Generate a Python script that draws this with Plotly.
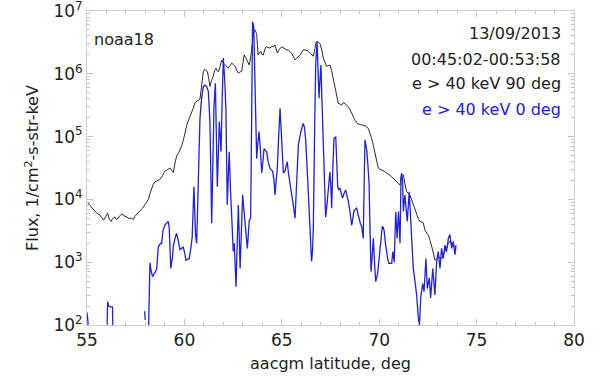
import numpy as np
import plotly.graph_objects as go

# ---- data (latitude in deg, flux as log10 of 1/cm2-s-str-keV) ----
lat90 = [55.0, 55.12, 55.24, 55.37, 55.5, 55.67, 55.84, 55.95, 56.06, 56.15, 56.23, 56.33, 56.44, 56.52, 56.6, 56.7,
         56.78, 56.9, 57.04, 57.15, 57.29, 57.38, 57.46, 57.6, 57.72, 57.85, 57.98, 58.07, 58.15, 58.24, 58.32, 58.4,
         58.49, 58.6, 58.75, 58.88, 59.0, 59.12, 59.26, 59.35, 59.43, 59.52, 59.6, 59.72, 59.86, 59.95, 60.03, 60.12,
         60.2, 60.29, 60.37, 60.45, 60.54, 60.63, 60.72, 60.8, 60.88, 60.97, 61.03, 61.1, 61.17, 61.23, 61.31, 61.4,
         61.48, 61.55, 61.62, 61.68, 61.74, 61.82, 61.91, 62.0, 62.08, 62.17, 62.25, 62.34, 62.43, 62.5, 62.6, 62.68,
         62.77, 62.86, 62.94, 63.02, 63.07, 63.14, 63.2, 63.27, 63.33, 63.42, 63.5, 63.56, 63.62, 63.68, 63.71, 63.75,
         63.79, 63.85, 63.92, 63.98, 64.05, 64.12, 64.19, 64.28, 64.39, 64.5, 64.58, 64.65, 64.72, 64.77, 64.85, 64.92,
         64.99, 65.06, 65.15, 65.25, 65.33, 65.42, 65.5, 65.58, 65.68, 65.76, 65.85, 65.95, 66.02, 66.1, 66.2, 66.28,
         66.36, 66.45, 66.55, 66.62, 66.7, 66.76, 66.82, 66.9, 66.96, 67.05, 67.13, 67.22, 67.3, 67.38, 67.47, 67.56,
         67.64, 67.73, 67.82, 67.9, 67.98, 68.07, 68.15, 68.24, 68.32, 68.41, 68.5, 68.59, 68.68, 68.76, 68.85, 68.93,
         69.05, 69.18, 69.3, 69.44, 69.52, 69.61, 69.7, 69.78, 69.87, 69.95, 70.04, 70.13, 70.25, 70.38, 70.5, 70.64,
         70.77, 70.9, 71.0, 71.07, 71.15, 71.24, 71.32, 71.41, 71.5, 71.58, 71.66, 71.75, 71.84, 71.92, 72.0, 72.09,
         72.18, 72.26, 72.35, 72.44, 72.52, 72.6, 72.69, 72.78, 72.86, 72.95, 73.03, 73.12, 73.2, 73.29, 73.37, 73.46,
         73.55, 73.63, 73.72, 73.8, 73.87, 73.94]
flux90_log10 = [3.96, 3.92, 3.88, 3.82, 3.78, 3.75, 3.67, 3.72, 3.78, 3.68, 3.65, 3.7, 3.72, 3.68, 3.71, 3.74,
                3.77, 3.74, 3.72, 3.7, 3.7, 3.68, 3.73, 3.77, 3.82, 3.86, 3.92, 3.95, 4.0, 4.1, 4.19, 4.24,
                4.28, 4.3, 4.32, 4.38, 4.45, 4.47, 4.5, 4.46, 4.43, 4.58, 4.69, 4.75, 4.85, 4.95, 5.07, 5.18,
                5.25, 5.32, 5.36, 5.45, 5.54, 5.56, 5.57, 5.6, 5.8, 6.03, 6.07, 6.06, 6.04, 5.96, 5.8, 5.9,
                5.96, 6.05, 6.09, 6.05, 6.03, 6.1, 6.22, 6.17, 6.14, 6.12, 6.09, 6.13, 6.17, 6.15, 6.12, 6.06,
                6.01, 6.03, 6.04, 6.2, 6.3, 6.26, 6.22, 6.17, 6.14, 6.3, 6.55, 6.68, 6.7, 6.66, 6.64, 6.45,
                6.3, 6.33, 6.36, 6.31, 6.3, 6.38, 6.43, 6.42, 6.41, 6.44, 6.43, 6.46, 6.38, 6.33, 6.38, 6.41,
                6.43, 6.42, 6.4, 6.38, 6.38, 6.36, 6.33, 6.28, 6.22, 6.25, 6.27, 6.3, 6.34, 6.38, 6.38, 6.37,
                6.36, 6.33, 6.3, 6.28, 6.4, 6.5, 6.52, 6.5, 6.48, 6.38, 6.25, 6.18, 6.12, 6.13, 6.14, 6.05,
                5.93, 5.8, 5.66, 5.53, 5.52, 5.5, 5.54, 5.53, 5.5, 5.48, 5.43, 5.37, 5.3, 5.26, 5.22, 5.2,
                5.19, 5.18, 5.17, 5.13, 5.06, 4.97, 4.86, 4.76, 4.62, 4.5, 4.48, 4.47, 4.45, 4.42, 4.4, 4.36,
                4.32, 4.28, 4.25, 4.23, 4.39, 4.39, 4.25, 4.12, 4.1, 4.07, 4.0, 3.91, 3.82, 3.75, 3.7, 3.65,
                3.64, 3.63, 3.51, 3.47, 3.43, 3.36, 3.27, 3.15, 3.03, 3.05, 3.06, 3.08, 3.05, 3.12, 3.17, 3.25,
                3.3, 3.34, 3.3, 3.27, 3.25, 3.22]

lat0 = [55.0, 55.05, 55.1, 55.95, 56.06, 56.12, 56.18, 56.31, 56.37, 57.9, None, 57.96, 57.99, None, 58.1,
        58.23, 58.3, 58.37, 58.45, 58.52, 58.58, 58.66, 58.71, 58.78, 58.83, 58.9, 59.0, 59.08, 59.17, 59.22, 59.3,
        59.38, 59.43, 59.52, 59.6, 59.68, 59.77, 59.85, 59.94, 60.0, 60.08, 60.17, 60.25, 60.32, 60.4, 60.49, 60.57,
        60.63, 60.72, 60.8, 60.88, 60.97, 61.06, 61.14, 61.23, 61.31, 61.36, 61.4, 61.47, 61.52, 61.59, 61.64, 61.69,
        61.74, 61.79, 61.84, 61.88, 61.94, 62.0, 62.07, 62.13, 62.2, 62.3, 62.37, 62.44, 62.51, 62.56, 62.65, 62.71,
        62.77, 62.86, 62.93, 62.99, 63.05, 63.11, 63.23, 63.33, 63.4, 63.45, 63.5, 63.56, 63.61, 63.66, 63.71, 63.77,
        63.83, 63.9, 63.97, 64.03, 64.09, 64.16, 64.22, 64.3, 64.39, 64.46, 64.53, 64.6, 64.65, 64.71, 64.77, 64.84,
        64.91, 64.99, 65.08, 65.16, 65.22, 65.28, 65.35, 65.42, 65.5, 65.59, 65.68, 65.76, 65.85, 65.98, 66.1, 66.16,
        66.22, 66.3, 66.36, 66.45, 66.53, 66.58, 66.62, 66.68, 66.74, 66.81, 66.86, 66.91, 66.96, 67.01, 67.06, 67.12,
        67.18, 67.25, 67.3, 67.36, 67.42, 67.47, 67.52, 67.56, 67.62, 67.68, 67.77, 67.82, 67.87, 67.93, 67.99, 68.05,
        68.12, 68.2, 68.28, 68.35, 68.41, 68.5, 68.59, 68.65, 68.7, 68.77, 68.84, 68.9, 68.96, 69.03, 69.1, 69.18,
        69.27, 69.32, 69.37, 69.43, 69.48, 69.53, 69.58, 69.64, 69.7, 69.76, 69.82, 69.92, 69.98, 70.04, 70.1, 70.16,
        70.21, 70.26, 70.32, 70.38, 70.44, 70.5, 70.58, 70.64, 70.7, 70.77, 70.85, 70.92, 70.99, 71.04, 71.07, 71.12,
        71.15, 71.2, 71.24, 71.32, 71.38, 71.44, 71.54, 71.6, 71.68, 71.75, 71.84, 71.92, 72.0, 72.06, 72.13, 72.23,
        72.3, 72.4, 72.47, 72.57, 72.64, 72.75, 72.86, 72.95, 73.03, 73.12, 73.2, 73.29, 73.37, 73.46, 73.55, 73.63,
        73.72, 73.8, 73.89, 73.94]
flux0_log10 = [2.2, 2.05, 1.0, 1.0, 2.37, 2.3, 2.29, 2.29, 1.0, 1.0, None, 2.22, 2.08, None, 1.0,
               2.99, 2.85, 2.77, 2.82, 2.85, 2.9, 3.25, 3.27, 3.3, 3.3, 3.5, 3.59, 3.62, 3.65, 3.55, 2.9,
               3.06, 3.25, 3.38, 3.46, 3.35, 3.2, 3.22, 3.24, 3.17, 3.03, 3.05, 3.06, 3.2, 3.4, 4.2, 3.45,
               3.3, 4.5, 5.29, 5.6, 5.8, 5.82, 5.8, 5.72, 5.24, 4.4, 3.62, 4.7, 5.5, 5.85, 5.1, 4.2,
               4.7, 5.24, 5.0, 4.76, 5.6, 6.25, 5.9, 5.45, 3.91, 4.76, 4.12, 3.6, 3.17, 3.3, 2.61, 3.3,
               3.91, 2.9, 3.5, 4.07, 3.85, 3.59, 3.22, 3.67, 3.7, 5.2, 6.83, 6.75, 6.1, 5.5, 4.65, 4.9,
               5.08, 4.8, 4.42, 4.6, 4.81, 4.78, 4.76, 4.6, 4.5, 4.47, 4.45, 4.3, 4.07, 4.3, 4.5, 5.0,
               5.45, 4.97, 4.42, 4.45, 4.55, 4.6, 4.4, 4.23, 4.05, 3.91, 3.7, 4.3, 4.87, 5.08, 5.21, 5.15,
               4.97, 4.5, 4.12, 3.5, 3.01, 3.2, 3.59, 5.0, 6.14, 6.51, 6.1, 5.61, 5.9, 6.14, 5.6, 4.97,
               4.3, 3.72, 3.85, 4.07, 4.3, 4.44, 4.2, 3.86, 4.5, 4.97, 5.0, 4.6, 4.2, 4.15, 4.18, 4.1,
               4.02, 4.1, 4.15, 4.05, 3.98, 3.8, 3.59, 3.7, 3.81, 3.84, 3.86, 3.78, 3.7, 3.62, 3.57, 3.38,
               4.95, 4.85, 4.76, 4.5, 4.25, 3.5, 2.85, 3.1, 3.38, 3.0, 2.69, 2.82, 3.0, 3.17, 3.4, 3.57,
               3.55, 3.49, 3.3, 3.12, 3.05, 2.98, 2.98, 2.98, 3.17, 3.0, 3.8, 3.38, 3.81, 3.4, 3.3, 4.35,
               4.42, 4.3, 3.81, 4.07, 3.8, 3.65, 4.12, 3.7, 3.17, 2.9, 2.69, 2.48, 2.16, 1.95, 2.43, 2.66,
               2.53, 3.06, 2.58, 2.75, 2.43, 2.9, 2.48, 3.01, 3.17, 2.9, 3.22, 3.06, 3.27, 3.17, 3.38, 3.44,
               3.22, 3.33, 3.12, 3.27]

x_ticks = [55, 60, 65, 70, 75, 80]
y_ticks = [1e2, 1e3, 1e4, 1e5, 1e6, 1e7]
y_ticktext = ["10<sup>2</sup>", "10<sup>3</sup>", "10<sup>4</sup>", "10<sup>5</sup>", "10<sup>6</sup>", "10<sup>7</sup>"]
y_minor = [m * 10 ** e for e in range(2, 7) for m in range(2, 10)]
x_minor = list(range(55, 81))

def to_flux(vals):
    return [None if v is None else 10 ** v for v in vals]

FONT = "DejaVu Sans"
TXT = "#222222"
BLUE = "#2020e0"

fig = go.Figure()
fig.add_trace(go.Scatter(x=lat90, y=to_flux(flux90_log10), mode="lines",
                         line=dict(color="#2a2a2a", width=1), showlegend=False))
fig.add_trace(go.Scatter(x=lat0, y=to_flux(flux0_log10), mode="lines", connectgaps=False,
                         line=dict(color=BLUE, width=1.3), showlegend=False))

axis_common = dict(showline=True, linecolor="#cfcfcf", linewidth=1, mirror="ticks",
                   ticks="inside", ticklen=6, tickcolor="#c4c4c4", showgrid=False, zeroline=False,
                   ticklabeloverflow="allow", automargin=False,
                   tickfont=dict(family=FONT, size=17, color=TXT))

fig.update_xaxes(range=[55, 80], tickmode="array", tickvals=x_ticks,
                 title=dict(text="aacgm latitude, deg", font=dict(family=FONT, size=16, color=TXT), standoff=8),
                 minor=dict(tickmode="array", tickvals=x_minor, ticks="inside", ticklen=3, tickcolor="#c4c4c4",
                            showgrid=False),
                 **axis_common)
fig.update_yaxes(type="log", range=[2, 7], tickmode="array", tickvals=y_ticks, ticktext=y_ticktext,
                 title=dict(text="Flux, 1/cm<sup>2</sup>-s-str-keV", font=dict(family=FONT, size=16, color=TXT),
                            standoff=10),
                 minor=dict(tickmode="array", tickvals=y_minor, ticks="inside", ticklen=3, tickcolor="#c4c4c4",
                            showgrid=False),
                 **axis_common)

ann_font = dict(family=FONT, size=16, color=TXT)
fig.add_annotation(x=0.01, y=0.908, xref="paper", yref="paper", text="noaa18", showarrow=False,
                   xanchor="left", yanchor="middle", font=ann_font)
right_lines = [("13/09/2013", 0.927, TXT), ("00:45:02-00:53:58", 0.844, TXT),
               ("e &gt; 40 keV 90 deg", 0.768, TXT), ("e &gt; 40 keV 0 deg", 0.685, BLUE)]
for txt, yy, col in right_lines:
    fig.add_annotation(x=0.977, y=yy, xref="paper", yref="paper", text=txt, showarrow=False,
                       xanchor="right", yanchor="middle", font=dict(family=FONT, size=16, color=col))

fig.update_layout(width=603, height=382, margin=dict(l=87, r=29, t=11, b=57),
                  paper_bgcolor="white", plot_bgcolor="white")

fig.write_html("out.html")
